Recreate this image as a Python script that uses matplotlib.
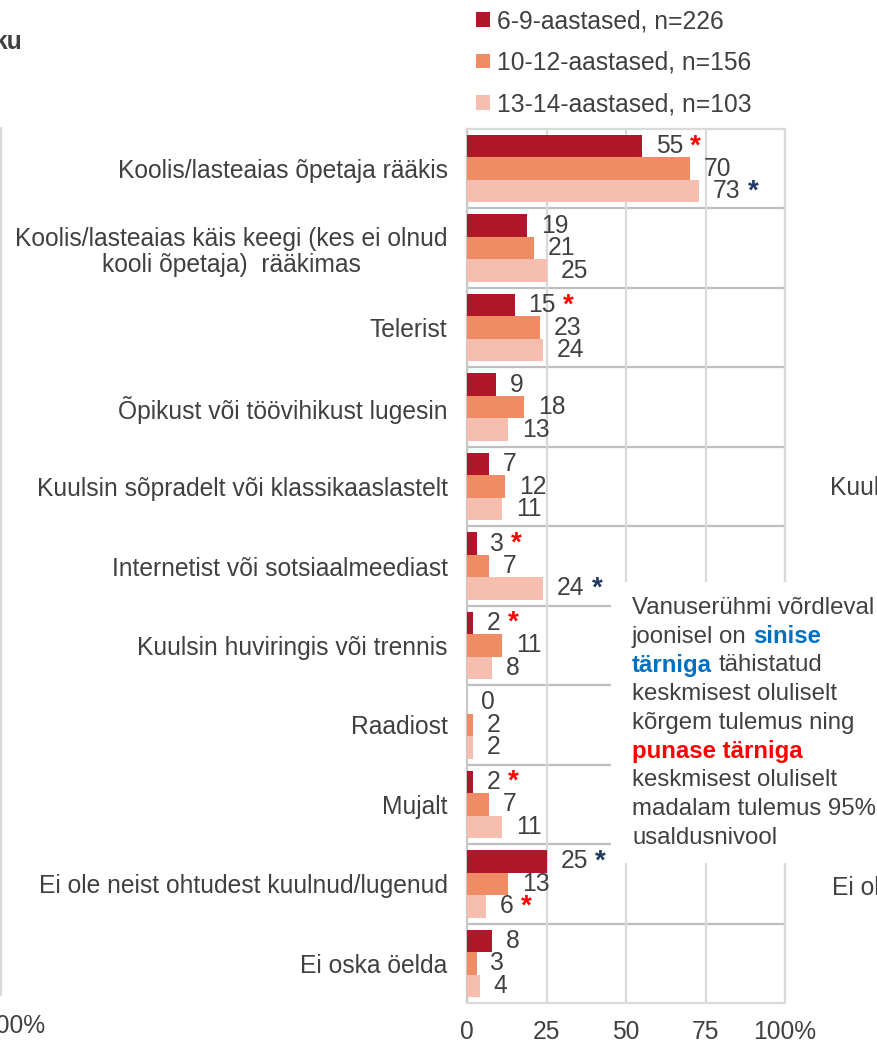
import numpy as np
import matplotlib
matplotlib.use('Agg')
import matplotlib.pyplot as plt
from matplotlib.patches import Rectangle

plt.rcParams['font.family'] = ['Liberation Sans', 'DejaVu Sans']

categories = ['Koolis/lasteaias õpetaja rääkis',
              'Koolis/lasteaias käis keegi (kes ei olnud\nkooli õpetaja)  rääkimas',
              'Telerist',
              'Õpikust või töövihikust lugesin',
              'Kuulsin sõpradelt või klassikaaslastelt',
              'Internetist või sotsiaalmeediast',
              'Kuulsin huviringis või trennis',
              'Raadiost',
              'Mujalt',
              'Ei ole neist ohtudest kuulnud/lugenud',
              'Ei oska öelda']

series_names = ['6-9-aastased, n=226', '10-12-aastased, n=156', '13-14-aastased, n=103']
age_6_9 = [55, 19, 15, 9, 7, 3, 2, 0, 2, 25, 8]
age_10_12 = [70, 21, 23, 18, 12, 7, 11, 2, 7, 13, 3]
age_13_14 = [73, 25, 24, 13, 11, 24, 8, 2, 11, 6, 4]

# significance marks: 'r' = lower (red star), 'b' = higher (blue star)
stars_6_9 = ['r', '', 'r', '', '', 'r', 'r', '', 'r', 'b', '']
stars_10_12 = [''] * 11
stars_13_14 = ['b', '', '', '', '', 'b', '', '', '', 'r', '']

colors = ['#B0172B', '#F08C64', '#F5BEAF']
star_colors = {'r': '#FF0000', 'b': '#1F3864'}
txt = '#404040'
fs = 17.7
fs_note = 17.3

W, H = 877, 1043
fig = plt.figure(figsize=(W / 100, H / 100), dpi=100)
ax = fig.add_axes([467 / W, (H - 1003) / H, (785 - 467) / W, (1003 - 129) / H])

y = np.arange(len(categories))
bh = 0.283
values = [age_6_9, age_10_12, age_13_14]
stars = [stars_6_9, stars_10_12, stars_13_14]
handles = []
for k in range(3):
    yy = y + (k - 1) * bh
    b = ax.barh(yy, values[k], height=bh, color=colors[k], zorder=3)
    handles.append(b)
    for yi, v, s in zip(yy, values[k], stars[k]):
        t = ax.annotate(str(v), xy=(v, yi), xytext=(10, 0), textcoords='offset points',
                        va='center', ha='left', fontsize=fs, color=txt, zorder=4)
        if s:
            ax.annotate('*', xy=(1, 0.5), xycoords=t, xytext=(5, 0),
                        textcoords='offset points', va='center', ha='left',
                        fontsize=20, fontweight='bold', color=star_colors[s], zorder=4)

ax.set_xlim(0, 100)
ax.set_ylim(len(categories) - 0.5, -0.5)
ax.set_xticks([0, 25, 50, 75, 100])
ax.set_xticklabels(['0', '25', '50', '75', '100%'])
ax.set_yticks(y)
ax.set_yticklabels(categories, linespacing=1.1)
for lab in ax.get_yticklabels():
    lab.set_multialignment('center')
ax.tick_params(axis='y', length=0, pad=14, labelsize=fs, labelcolor=txt)
ax.tick_params(axis='x', length=0, pad=12, labelsize=fs, labelcolor=txt)
ax.grid(axis='x', color='#D9D9D9', lw=1.6, zorder=0)
for sep in np.arange(0.5, len(categories) - 0.5, 1):
    ax.axhline(sep, color='#BFBFBF', lw=1.6, zorder=1)
for sp in ax.spines.values():
    sp.set_color('#D9D9D9')
    sp.set_linewidth(1.6)
ax.spines['left'].set_color('#C8C8C8')

fig.legend(handles, series_names, loc='upper left', bbox_to_anchor=(476 / W, 1 - 9 / H),
           frameon=False, fontsize=fs, labelcolor=txt, handlelength=0.55, handleheight=0.55,
           handletextpad=0.3, labelspacing=0.72, borderpad=0, borderaxespad=0)

# note box covering part of the grid
fig.add_artist(Rectangle((611 / W, 1 - 863 / H), 300 / W, (863 - 582) / H,
                         transform=fig.transFigure, facecolor='white', edgecolor='none', zorder=5))
x0 = 632 / W
line_y = [608 + i * 28.7 for i in range(9)]
def fy(p):
    return 1 - p / H

fig.text(x0, fy(line_y[0]), 'Vanuserühmi võrdleval', fontsize=fs_note, color=txt, va='center', zorder=6)
t = fig.text(x0, fy(line_y[1]), 'joonisel on', fontsize=fs_note, color=txt, va='center', zorder=6)
fig.add_artist(plt.Annotation('sinise', xy=(1, 0.5), xycoords=t, xytext=(5, 0), textcoords='offset points',
                              va='center', fontsize=fs_note, fontweight='bold', color='#0070C0', zorder=6))
t = fig.text(x0, fy(line_y[2]), 'tärniga', fontsize=fs_note, fontweight='bold', color='#0070C0', va='center', zorder=6)
fig.add_artist(plt.Annotation('tähistatud', xy=(1, 0.5), xycoords=t, xytext=(5, 0), textcoords='offset points',
                              va='center', fontsize=fs_note, color=txt, zorder=6))
fig.text(x0, fy(line_y[3]), 'keskmisest oluliselt', fontsize=fs_note, color=txt, va='center', zorder=6)
fig.text(x0, fy(line_y[4]), 'kõrgem tulemus ning', fontsize=fs_note, color=txt, va='center', zorder=6)
fig.text(x0, fy(line_y[5]), 'punase tärniga', fontsize=fs_note, fontweight='bold', color='#FF0000', va='center', zorder=6)
fig.text(x0, fy(line_y[6]), 'keskmisest oluliselt', fontsize=fs_note, color=txt, va='center', zorder=6)
fig.text(x0, fy(line_y[7]), 'madalam tulemus 95%', fontsize=fs_note, color=txt, va='center', zorder=6)
fig.text(x0, fy(line_y[8]), 'usaldusnivool', fontsize=fs_note, color=txt, va='center', zorder=6)

# pieces of the neighbouring panels cut off by the image edges
fig.text(22 / W, fy(42), 'ku', fontsize=fs, fontweight='bold', color=txt, ha='right', va='center')
fig.text(45 / W, fy(1026), '100%', fontsize=fs, color=txt, ha='right', va='center')
fig.add_artist(plt.Line2D([1 / W, 1 / W], [fy(128), fy(995)], transform=fig.transFigure,
                          color='#D9D9D9', lw=1.6))
fig.text(875 / W, fy(234), 'Koolis/lasteaias käis keegi (kes ei olnud', fontsize=fs, color=txt, va='center')
fig.text(830 / W, fy(488), 'Kuulsin sõpradelt või klassikaaslastelt', fontsize=fs, color=txt, va='center')
fig.text(832 / W, fy(888), 'Ei ole neist ohtudest kuulnud/lugenud', fontsize=fs, color=txt, va='center')

fig.savefig('out.png', dpi=100)
